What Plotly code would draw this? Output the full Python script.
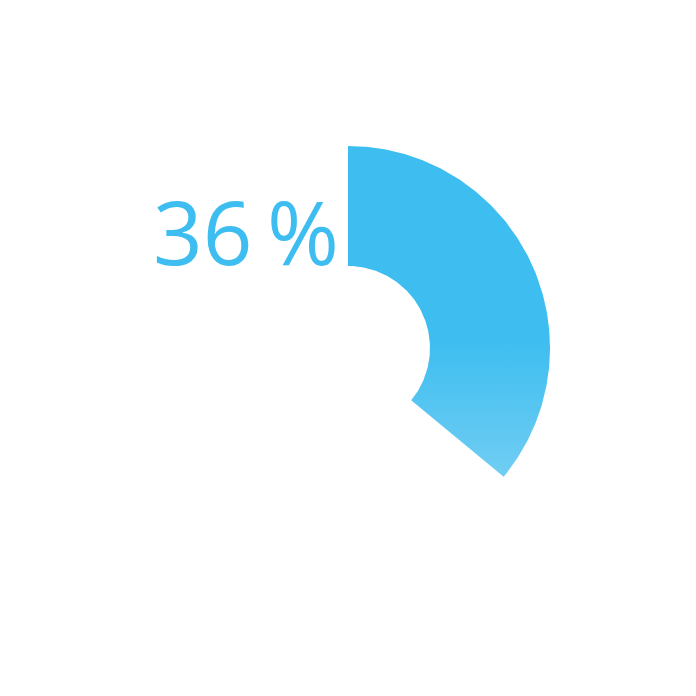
import numpy as np
import plotly.graph_objects as go

# gauge value
percent = 36
label = f"{percent}\u2009%"

OUTER_R = 1.0
INNER_R = 0.406
solid_color = "#3dbdf0"
light_color = "#72cef3"

# arc from 12 o'clock going clockwise
theta_end = 2 * np.pi * percent / 100
t = np.linspace(0, theta_end, 200)
x_outer = OUTER_R * np.sin(t)
y_outer = OUTER_R * np.cos(t)
x_inner = INNER_R * np.sin(t[::-1])
y_inner = INNER_R * np.cos(t[::-1])
xs = np.concatenate([x_outer, x_inner, x_outer[:1]])
ys = np.concatenate([y_outer, y_inner, y_outer[:1]])

fig = go.Figure()
fig.add_trace(go.Scatter(
    x=xs, y=ys,
    mode="lines",
    line=dict(width=0),
    fill="toself",
    fillgradient=dict(
        type="vertical",
        colorscale=[[0, light_color], [1, solid_color]],
        start=-0.66,
        stop=0.05,
    ),
    hoverinfo="skip",
    showlegend=False,
))

# page adds 8px body margin, so centre the arc at 340px in figure space
px_per_unit = 202
fig.update_xaxes(range=[-340 / px_per_unit, 356 / px_per_unit], visible=False)
fig.update_yaxes(range=[-356 / px_per_unit, 340 / px_per_unit], visible=False)

fig.add_annotation(
    text=label,
    x=333 / 696, y=1 - 222.5 / 696,
    xref="paper", yref="paper",
    xanchor="right", yanchor="middle",
    showarrow=False,
    font=dict(family="Open Sans", size=87, color=solid_color),
)

fig.update_layout(
    width=696, height=696,
    margin=dict(l=0, r=0, t=0, b=0),
    paper_bgcolor="white",
    plot_bgcolor="white",
)

fig.write_html("out.html")
